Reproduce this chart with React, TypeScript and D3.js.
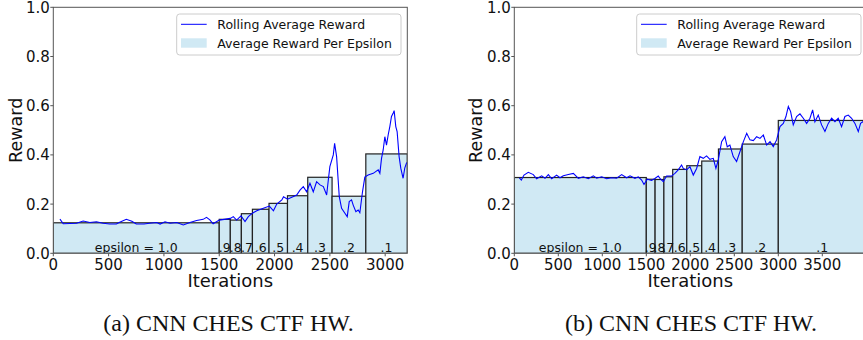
import React from "react";
import * as d3 from "d3";

// ---------- data ----------
const epsLabels = ["epsilon = 1.0", ".9", ".8", ".7", ".6", ".5", ".4", ".3", ".2", ".1"];

// chart (a)
const epsStartA = [0, 1500, 1600, 1700, 1800, 1950, 2117, 2300, 2520, 2825];
const epsEndA = 3200;
const avgRewardA = [0.124, 0.138, 0.135, 0.161, 0.179, 0.203, 0.234, 0.309, 0.232, 0.404];
const iterA = [
  60, 90, 150, 210, 270, 330, 390, 450, 510, 570, 600, 660, 710, 750, 820, 870, 935, 965, 1010, 1055,
  1115, 1175, 1235, 1295, 1355, 1385, 1415, 1445, 1475, 1500, 1545, 1600, 1627, 1657, 1697, 1733, 1763,
  1800, 1839, 1899, 1953, 1990, 2020, 2066, 2081, 2117, 2156, 2200, 2230, 2260, 2290, 2320, 2350, 2380,
  2411, 2441, 2471, 2486, 2500, 2531, 2543, 2561, 2585, 2606, 2636, 2657, 2675, 2696, 2711, 2735, 2756,
  2771, 2795, 2816, 2846, 2892, 2937, 2952, 2967, 2982, 2997, 3012, 3027, 3042, 3057, 3072, 3081, 3096,
  3108, 3126, 3141, 3162, 3177, 3192, 3200,
];
const rollingA = [
  0.139, 0.12, 0.121, 0.122, 0.131, 0.125, 0.128, 0.122, 0.119, 0.119, 0.126, 0.138, 0.13, 0.119, 0.119,
  0.122, 0.125, 0.119, 0.128, 0.122, 0.125, 0.115, 0.125, 0.133, 0.138, 0.146, 0.136, 0.12, 0.128, 0.135,
  0.138, 0.142, 0.149, 0.135, 0.152, 0.129, 0.149, 0.163, 0.173, 0.183, 0.192, 0.173, 0.2, 0.217, 0.23,
  0.22, 0.228, 0.237, 0.257, 0.271, 0.25, 0.285, 0.25, 0.291, 0.278, 0.271, 0.237, 0.298, 0.352, 0.4,
  0.447, 0.393, 0.23, 0.183, 0.163, 0.149, 0.21, 0.217, 0.196, 0.169, 0.176, 0.165, 0.25, 0.31, 0.318,
  0.325, 0.339, 0.325, 0.386, 0.42, 0.474, 0.44, 0.481, 0.515, 0.556, 0.569, 0.58, 0.515, 0.495, 0.393,
  0.346, 0.305, 0.346, 0.366, 0.37,
];

// chart (b)
const epsStartB = [0, 1500, 1600, 1700, 1800, 1960, 2130, 2320, 2590, 3000];
const epsEndB = 4000;
const avgRewardB = [0.308, 0.301, 0.3, 0.311, 0.341, 0.356, 0.375, 0.424, 0.444, 0.54];
const iterB = [
  57, 80, 110, 159, 216, 254, 311, 349, 387, 425, 481, 519, 557, 614, 671, 728, 784, 841, 898, 936, 993,
  1050, 1106, 1163, 1220, 1277, 1315, 1371, 1409, 1447, 1474, 1511, 1560, 1598, 1636, 1663, 1693, 1731,
  1787, 1825, 1863, 1901, 1920, 1958, 1996, 2034, 2072, 2109, 2147, 2185, 2223, 2261, 2291, 2318, 2356,
  2393, 2420, 2450, 2488, 2526, 2564, 2603, 2641, 2678, 2716, 2754, 2792, 2830, 2868, 2906, 2943, 2981,
  3019, 3057, 3087, 3114, 3140, 3170, 3208, 3246, 3284, 3322, 3360, 3390, 3416, 3454, 3492, 3530, 3568,
  3606, 3644, 3681, 3719, 3757, 3795, 3833, 3871, 3909, 3935, 3962, 3995,
];
const rollingB = [
  0.307, 0.298, 0.318, 0.329, 0.32, 0.303, 0.315, 0.305, 0.32, 0.303, 0.318, 0.307, 0.315, 0.32, 0.325,
  0.305, 0.311, 0.303, 0.315, 0.305, 0.311, 0.303, 0.307, 0.305, 0.32, 0.307, 0.315, 0.305, 0.311, 0.298,
  0.28, 0.301, 0.296, 0.304, 0.314, 0.301, 0.291, 0.314, 0.314, 0.325, 0.339, 0.359, 0.345, 0.339, 0.352,
  0.318, 0.345, 0.393, 0.386, 0.396, 0.382, 0.386, 0.345, 0.38, 0.454, 0.474, 0.433, 0.44, 0.393, 0.373,
  0.413, 0.454, 0.488, 0.461, 0.458, 0.474, 0.467, 0.481, 0.44, 0.454, 0.434, 0.461, 0.515, 0.528, 0.556,
  0.597, 0.576, 0.522, 0.556, 0.567, 0.549, 0.528, 0.549, 0.583, 0.535, 0.562, 0.522, 0.495, 0.528, 0.549,
  0.535, 0.549, 0.515, 0.556, 0.562, 0.549, 0.528, 0.495, 0.528, 0.535, 0.53,
];

const yTicks = [0, 0.2, 0.4, 0.6, 0.8, 1.0];
const xTicksA = [0, 500, 1000, 1500, 2000, 2500, 3000];
const xTicksB = [0, 500, 1000, 1500, 2000, 2500, 3000, 3500];
const legendLabels = ["Rolling Average Reward", "Average Reward Per Epsilon"];
const captions = ["(a) CNN CHES CTF HW.", "(b) CNN CHES CTF HW."];

// ---------- styles ----------
const FONT = "DejaVu Sans, sans-serif";
const BAR_FILL = "#d0e9f4";
const LINE_COLOR = "#0000ff";
const SPINE = "#555";

type PanelProps = {
  x0: number;
  x1: number;
  xMax: number;
  xTicks: number[];
  starts: number[];
  end: number;
  avgs: number[];
  iters: number[];
  vals: number[];
  legendX: number;
  yLabelX: number;
  caption: string;
  captionX: number;
  clipId: string;
};

function Panel(p: PanelProps) {
  const top = 7.3;
  const bottom = 253.3;
  const x = d3.scaleLinear().domain([0, p.xMax]).range([p.x0, p.x1]);
  const y = d3.scaleLinear().domain([0, 1]).range([bottom, top]);
  const line = d3
    .line<number>()
    .x((_, i) => x(p.iters[i]))
    .y((v) => y(v));
  const ends = p.starts.map((s, i) => (i < p.starts.length - 1 ? p.starts[i + 1] : p.end));
  const lg = p.legendX;
  return (
    <g>
      <defs>
        <clipPath id={p.clipId}>
          <rect x={p.x0} y={top} width={p.x1 - p.x0} height={bottom - top} />
        </clipPath>
      </defs>
      <g clipPath={`url(#${p.clipId})`}>
        {p.starts.map((s, i) => (
          <rect
            key={i}
            x={x(s)}
            y={y(p.avgs[i])}
            width={x(ends[i]) - x(s)}
            height={y(0) - y(p.avgs[i])}
            fill={BAR_FILL}
            stroke="#222"
            strokeWidth={1.2}
          />
        ))}
        {p.starts.map((s, i) => (
          <text
            key={"t" + i}
            x={(x(s) + x(ends[i])) / 2}
            y={bottom - 1.5}
            fontSize={12.5}
            fontFamily={FONT}
            textAnchor="middle"
            fill="#111"
          >
            {epsLabels[i]}
          </text>
        ))}
        <path d={line(p.vals) || ""} fill="none" stroke={LINE_COLOR} strokeWidth={1.1} />
      </g>
      {/* spines */}
      <rect
        x={p.x0}
        y={top}
        width={p.x1 - p.x0}
        height={bottom - top}
        fill="none"
        stroke={SPINE}
        strokeWidth={1}
      />
      {/* y ticks */}
      {yTicks.map((t) => (
        <g key={"y" + t}>
          <line x1={p.x0 - 3} x2={p.x0} y1={y(t)} y2={y(t)} stroke={SPINE} />
          <text
            x={p.x0 - 3.5}
            y={y(t)}
            dy="0.36em"
            fontSize={15}
            fontFamily={FONT}
            textAnchor="end"
            fill="#111"
          >
            {d3.format(".1f")(t)}
          </text>
        </g>
      ))}
      {/* x ticks */}
      {p.xTicks.map((t) => (
        <g key={"x" + t}>
          <line x1={x(t)} x2={x(t)} y1={bottom} y2={bottom + 3} stroke={SPINE} />
          <text
            x={x(t)}
            y={269.5}
            fontSize={15}
            fontFamily={FONT}
            textAnchor="middle"
            fill="#111"
          >
            {t}
          </text>
        </g>
      ))}
      <text
        x={(x(0) + x(p.xMax)) / 2}
        y={287}
        fontSize={18}
        fontFamily={FONT}
        textAnchor="middle"
        fill="#111"
      >
        Iterations
      </text>
      <text
        transform={`translate(${p.yLabelX},${(top + bottom) / 2}) rotate(-90)`}
        fontSize={17.5}
        fontFamily={FONT}
        textAnchor="middle"
        fill="#111"
      >
        Reward
      </text>
      {/* legend */}
      <rect x={lg} y={14} width={224.3} height={41} rx={3} fill="#fff" fillOpacity={0.8} stroke="#ccc" />
      <line x1={lg + 4.3} x2={lg + 30} y1={24.3} y2={24.3} stroke={LINE_COLOR} strokeWidth={1} />
      <rect x={lg + 4.3} y={38.3} width={25.7} height={9.4} fill={BAR_FILL} />
      <text x={lg + 40.6} y={28.8} fontSize={12.5} fontFamily={FONT} fill="#111">
        {legendLabels[0]}
      </text>
      <text x={lg + 40.6} y={47.5} fontSize={12.5} fontFamily={FONT} fill="#111">
        {legendLabels[1]}
      </text>
      <text
        x={p.captionX}
        y={331}
        fontSize={24}
        fontFamily="Liberation Serif, Times New Roman, serif"
        textAnchor="middle"
        fill="#111"
      >
        {p.caption}
      </text>
    </g>
  );
}

export default function App() {
  return (
    <svg
      width={863}
      height={340}
      style={{ position: "absolute", left: 0, top: 0, background: "#fff" }}
    >
      <Panel
        x0={53.3}
        x1={407.3}
        xMax={3200}
        xTicks={xTicksA}
        starts={epsStartA}
        end={epsEndA}
        avgs={avgRewardA}
        iters={iterA}
        vals={rollingA}
        legendX={176.7}
        yLabelX={22.3}
        caption={captions[0]}
        captionX={228.5}
        clipId="clipA"
      />
      <Panel
        x0={514.3}
        x1={866.3}
        xMax={4000}
        xTicks={xTicksB}
        starts={epsStartB}
        end={epsEndB}
        avgs={avgRewardB}
        iters={iterB}
        vals={rollingB}
        legendX={636.7}
        yLabelX={482.3}
        caption={captions[1]}
        captionX={691}
        clipId="clipB"
      />
    </svg>
  );
}
